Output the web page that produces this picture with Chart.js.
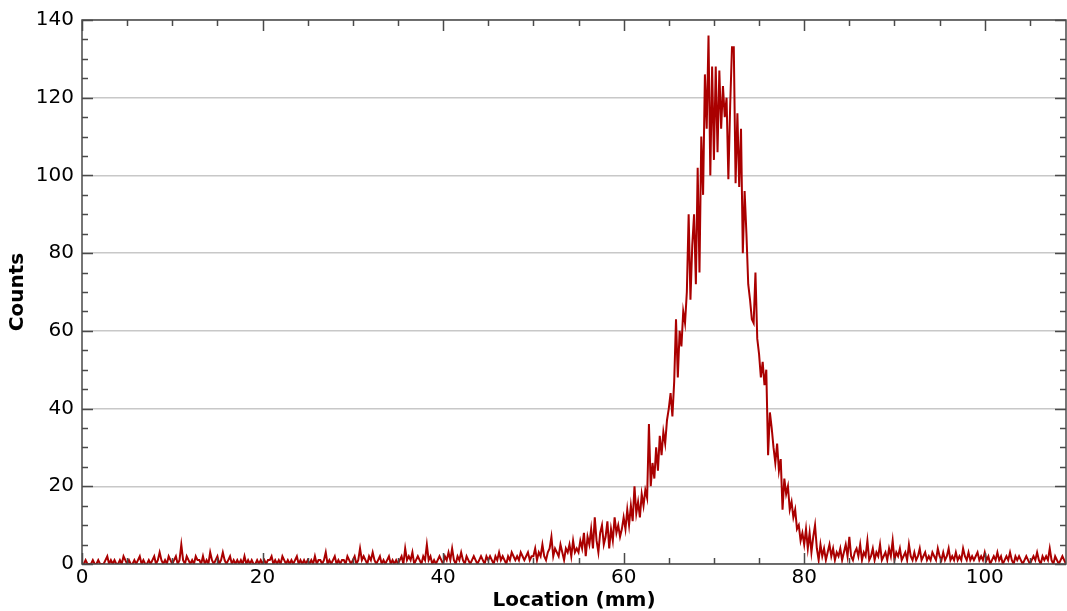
<!DOCTYPE html>
<html><head><meta charset="utf-8">
<script src="https://cdn.jsdelivr.net/npm/chart.js@4/dist/chart.umd.min.js"></script>
<style>html,body{margin:0;padding:0;background:#fff;}#wrap{width:1067px;height:611px;position:relative;}</style>
</head><body><div id="wrap"><canvas id="c"></canvas></div>
<script>
// Bin grid: each row holds 0.2 mm bins starting at rowStarts[r]
const binWidth = 0.2;
const rowStarts = [0,5,10,15,20,25,30,35,40,45,50,55,60,65,70,75,80,85,90,95,100,105];
const countRows = [
 [0,0,1,0,0,0,1,0,0,1,0,0,0,1,2,0,1,0,1,0,0,1,0,2,1],
 [0,1,0,0,1,0,1,2,0,1,0,0,1,0,1,2,0,1,3,1,0,1,0,2,1],
 [0,1,2,0,1,5,1,0,2,1,0,1,0,2,1,1,0,2,0,1,0,3,1,0,1],
 [2,0,1,3,1,0,1,2,0,1,0,1,0,1,0,2,0,1,0,1,0,0,1,0,1],
 [0,1,0,1,1,2,0,1,0,1,0,2,1,0,1,0,1,0,1,2,0,1,0,1,0],
 [1,0,1,0,2,0,1,1,0,1,3,0,1,0,1,2,0,1,0,1,1,0,2,1,0],
 [1,2,0,1,4,1,2,1,0,2,1,3,1,0,1,2,0,1,0,1,2,0,1,0,1],
 [0,1,2,0,4,1,2,1,3,0,1,2,1,0,2,1,5,1,2,0,1,0,1,2,1],
 [0,2,1,3,1,4,1,0,2,1,3,1,0,2,1,0,1,2,1,0,1,2,1,0,2],
 [1,2,1,0,2,1,3,1,2,1,0,2,1,3,2,1,2,1,3,2,1,2,3,1,2],
 [2,4,1,3,2,5,2,1,3,4,7,2,4,3,2,5,3,1,4,3,5,2,6,3,4],
 [3,6,4,8,2,7,5,9,4,12,6,3,8,10,5,7,11,4,9,6,12,8,10,7,9],
 [12,9,14,10,15,11,20,13,16,12,18,15,19,17,36,20,26,22,30,24,33,28,34,31,37],
 [40,44,38,47,63,48,60,56,65,62,70,90,68,82,90,72,102,75,110,95,126,112,136,100,128],
 [104,128,106,127,112,123,115,120,99,118,133,133,98,116,97,112,80,96,85,72,68,63,62,75,58],
 [54,48,52,46,50,28,39,35,30,26,31,24,27,14,22,18,20,14,16,12,14,9,10,6,8],
 [5,9,4,8,3,7,10,4,1,5,2,4,1,3,5,2,4,1,3,2,4,1,3,5,2],
 [7,2,1,3,4,2,5,1,3,2,6,1,2,4,1,3,2,5,1,2,3,1,4,2,6],
 [1,3,2,4,1,2,3,1,5,2,1,3,1,2,4,1,2,3,1,2,1,3,2,1,4],
 [2,1,3,1,2,4,1,2,1,3,1,2,1,4,2,1,3,1,2,1,2,3,1,2,1],
 [3,1,2,0,1,2,1,3,1,2,0,1,2,1,3,1,0,2,1,2,1,0,1,2,1],
 [0,1,2,1,3,1,0,2,1,2,1,4,1,0,2,1,0,1,2,1,0]
];
const xTickValues = [0,20,40,60,80,100];
const yTickValues = [0,20,40,60,80,100,120,140];
const xLabel = 'Location (mm)';
const yLabel = 'Counts';

const points = [];
countRows.forEach((row, r) => row.forEach((c, j) => points.push({x: +(rowStarts[r] + j*binWidth).toFixed(1), y: c})));

const frame = {
  id: 'frame',
  afterDatasetsDraw(chart) {
    const {ctx, chartArea: a, scales: {x, y}} = chart;
    ctx.save();
    ctx.strokeStyle = '#4a4a4a';
    ctx.lineWidth = 1.5;
    const seg = (x1,y1,x2,y2) => {ctx.beginPath(); ctx.moveTo(x1,y1); ctx.lineTo(x2,y2); ctx.stroke();};
    for (let v = 0; v <= x.max + 1e-9; v += 5) {
      const px = Math.round(x.getPixelForValue(v)) + 0.5;
      const len = v % 20 === 0 ? 11 : 6;
      seg(px, a.bottom, px, a.bottom - len);
      seg(px, a.top, px, a.top + len);
    }
    for (let v = 0; v <= y.max + 1e-9; v += 5) {
      const py = Math.round(y.getPixelForValue(v)) + 0.5;
      const len = v % 20 === 0 ? 11 : 6;
      seg(a.left, py, a.left + len, py);
      seg(a.right, py, a.right - len, py);
    }
    ctx.strokeRect(a.left, a.top, a.right - a.left, a.bottom - a.top);
    ctx.restore();
  }
};

Chart.defaults.font.family = '"DejaVu Sans", sans-serif';
new Chart(document.getElementById('c'), {
  type: 'line',
  data: {datasets: [{data: points, borderColor: '#aa0000', borderWidth: 2, pointRadius: 0, tension: 0, fill: false}]},
  options: {
    responsive: true, maintainAspectRatio: false, animation: false,
    layout: {padding: {top: 20, right: 1, left: 0, bottom: 0}},
    plugins: {legend: {display: false}, tooltip: {enabled: false}},
    scales: {
      x: {
        type: 'linear', min: 0, max: 109,
        grid: {display: false, drawTicks: false}, border: {display: false},
        ticks: {color: '#000', font: {size: 20}, padding: 2, includeBounds: false, maxRotation: 0},
        afterBuildTicks: s => { s.ticks = xTickValues.map(v => ({value: v})); },
        afterFit: s => { s.height = 47; },
        title: {display: true, text: xLabel, color: '#000', font: {size: 20, weight: 'bold', lineHeight: 1.0}, padding: 0}
      },
      y: {
        min: 0, max: 140,
        grid: {color: '#c8c8c8', lineWidth: 1.5, drawTicks: false}, border: {display: false},
        ticks: {color: '#000', font: {size: 20}, padding: 8},
        afterBuildTicks: s => { s.ticks = yTickValues.map(v => ({value: v})); },
        afterFit: s => { s.width = 82; },
        title: {display: true, text: yLabel, color: '#000', font: {size: 20, weight: 'bold', lineHeight: 1.0}, padding: {top: 8, bottom: 0}}
      }
    }
  },
  plugins: [frame]
});
</script></body></html>
